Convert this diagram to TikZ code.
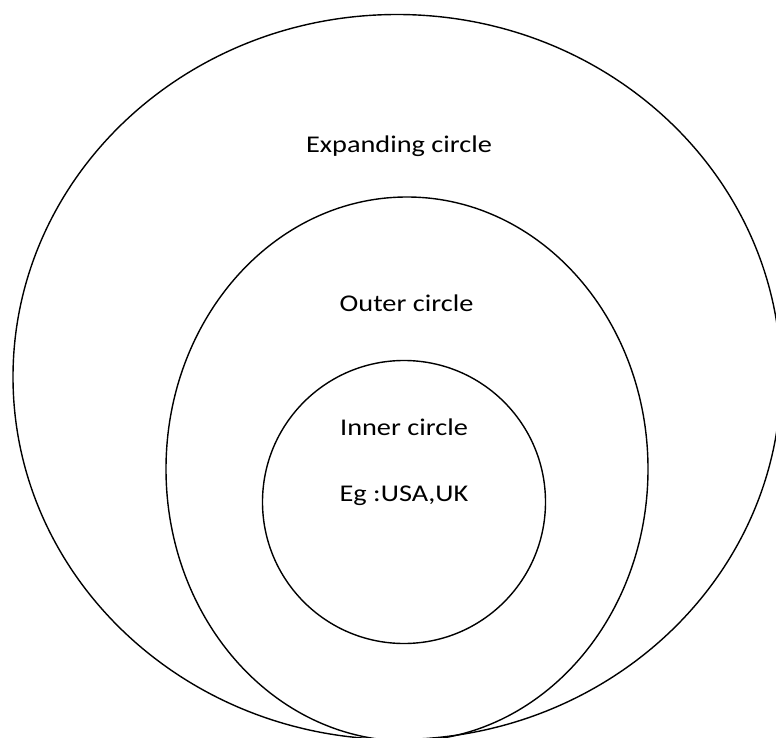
\documentclass[tikz,border=0pt]{standalone}
\usepackage{fontspec}
\setmainfont{Carlito}
\usetikzlibrary{shapes.geometric}
\begin{document}
\begin{tikzpicture}[x=1pt, y=-1pt]
    \useasboundingbox (0, 0) rectangle (776, 738);
    \begin{scope}[every node/.style={ellipse, draw, line width=1.4pt, inner sep=0pt}]
      \node[minimum width=768pt, minimum height=725pt] (expanding) at (397, 377) {};
      \node[minimum width=482pt, minimum height=544pt] (outer) at (407, 469) {};
      \node[minimum width=283pt, minimum height=283pt] (inner) at (404, 502) {};
    \end{scope}
    \begin{scope}[every node/.style={anchor=base, inner sep=0pt, xscale=1.18,
        font=\fontsize{24}{28}\selectfont}]
      \node (expandinglabel) at (399, 152.7) {Expanding circle};
      \node (outerlabel) at (406.5, 311) {Outer circle};
      \node (innerlabel) at (404, 435) {Inner circle};
      \node (examplelabel) at (404, 501) {Eg :USA,UK};
    \end{scope}
  \end{tikzpicture}
\end{document}
